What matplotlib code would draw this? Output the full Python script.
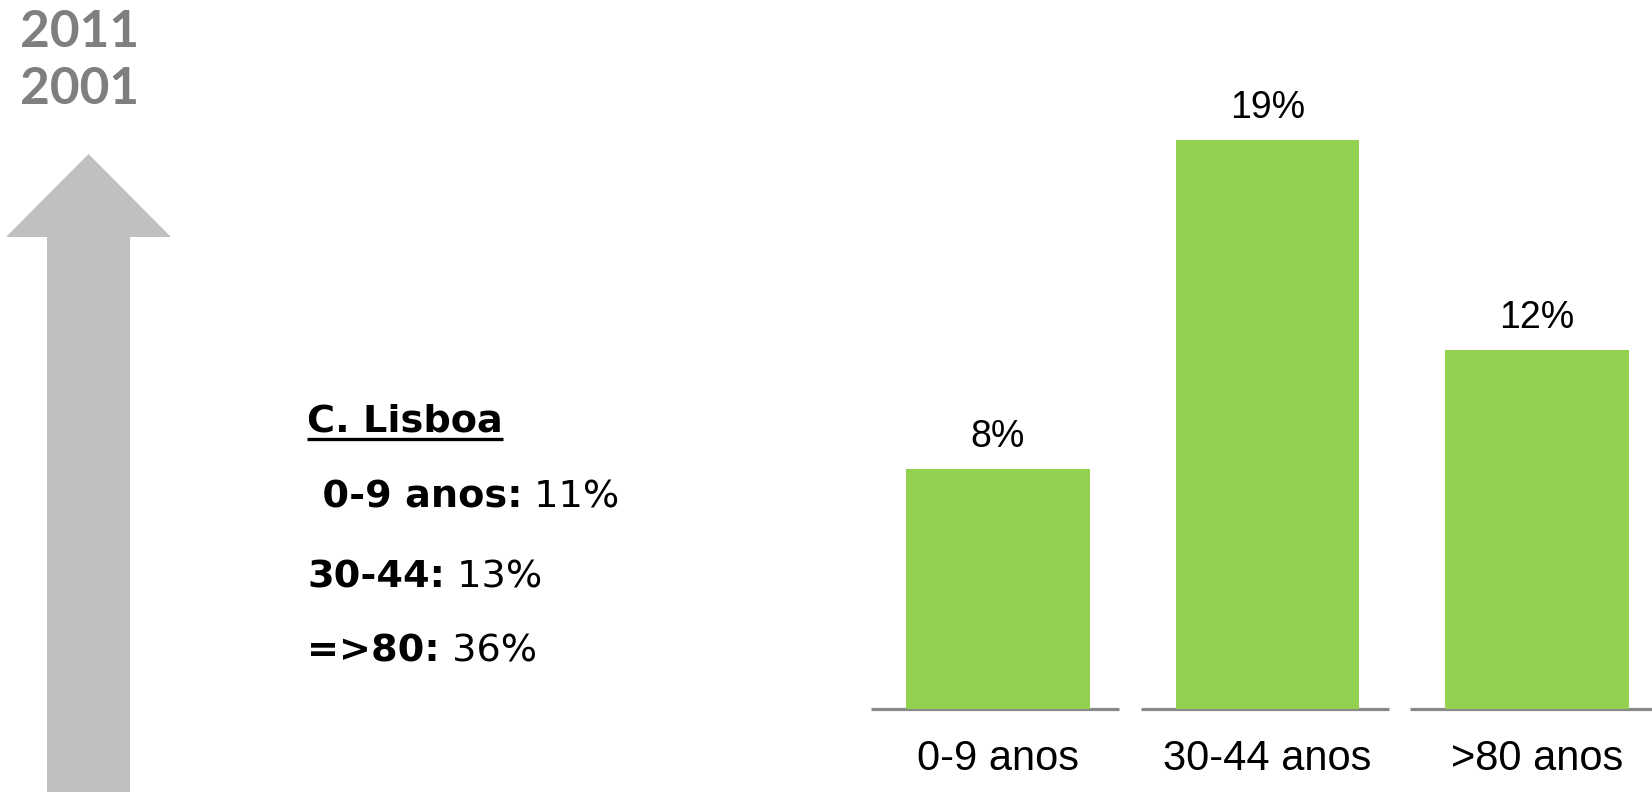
import matplotlib
matplotlib.use('Agg')
import matplotlib.pyplot as plt
from matplotlib.patches import FancyArrow
from matplotlib.lines import Line2D

# figure size in pixels
W, H = 1652, 792

# data
age_groups = ['0-9 anos', '30-44 anos', '>80 anos']
growth = [8, 19, 12]
years = ['2011', '2001']
region = 'C. Lisboa'
lisboa_groups = [' 0-9 anos:', '30-44:', '=>80:']
lisboa_values = [' 11%', ' 13%', ' 36%']

green = '#92d050'
base_grey = '#898989'
year_grey = '#7f7f7f'
arrow_grey = '#c0c0c0'

fig = plt.figure(figsize=(W / 100, H / 100), dpi=100)

# decoration layer in pixel units (origin top-left)
deco = fig.add_axes([0, 0, 1, 1])
deco.set_xlim(0, W)
deco.set_ylim(H, 0)
deco.axis('off')

# big grey arrow on the left
deco.add_patch(FancyArrow(88.5, H, 0, -(H - 154), width=83, head_width=165,
                          head_length=83, length_includes_head=True,
                          color=arrow_grey, lw=0))

# years
for k, yr in enumerate(years):
    deco.text(20, 47 + 57 * k, yr, fontsize=37, fontweight='bold',
              family='Lato', color=year_grey, va='baseline', ha='left')

# C. Lisboa block
title = deco.text(307, 432, region, fontsize=27.5, fontweight='bold',
                  family='DejaVu Sans', va='baseline', ha='left')
line_y = [508, 588, 662]
line_x = [309, 307, 307]
for k in range(len(lisboa_groups)):
    t = deco.text(line_x[k], line_y[k], lisboa_groups[k], fontsize=27.5,
                  fontweight='bold', family='DejaVu Sans', va='baseline', ha='left')
    deco.annotate(lisboa_values[k], xy=(1, 0), xycoords=t, fontsize=27.5,
                  family='DejaVu Sans', va='bottom', ha='left')

# underline under the title
renderer = fig.canvas.get_renderer()
bb = title.get_window_extent(renderer)
deco.add_line(Line2D([bb.x0 / W, bb.x1 / W], [1 - 439 / H, 1 - 439 / H],
                     transform=fig.transFigure, color='black', lw=2.4,
                     solid_capstyle='butt'))

# bar chart
base_px = 708.5
px_per_unit = 29.9
ax_left, ax_right = 862, W
step = 269.5
center0 = 998
ax = fig.add_axes([ax_left / W, (H - base_px) / H, (ax_right - ax_left) / W, base_px / H])
ax.set_xlim((ax_left - center0) / step, (ax_right - center0) / step)
ax.set_ylim(0, base_px / px_per_unit)
ax.axis('off')

x = list(range(len(age_groups)))
ax.bar(x, growth, width=0.68, color=green, zorder=2)
for i in x:
    ax.hlines(0, i - 0.47, i + 0.45, color=base_grey, lw=2.3, zorder=1, clip_on=False)
    ax.annotate(f'{growth[i]}%', xy=(i, growth[i]), xytext=(0, 22),
                textcoords='offset pixels', ha='center', va='baseline',
                fontsize=27, family='Liberation Sans', color='black')
    ax.annotate(age_groups[i], xy=(i, 0), xytext=(0, -62),
                textcoords='offset pixels', ha='center', va='baseline',
                fontsize=30, family='Liberation Sans', color='black',
                annotation_clip=False)

fig.savefig('out.png', dpi=100)
